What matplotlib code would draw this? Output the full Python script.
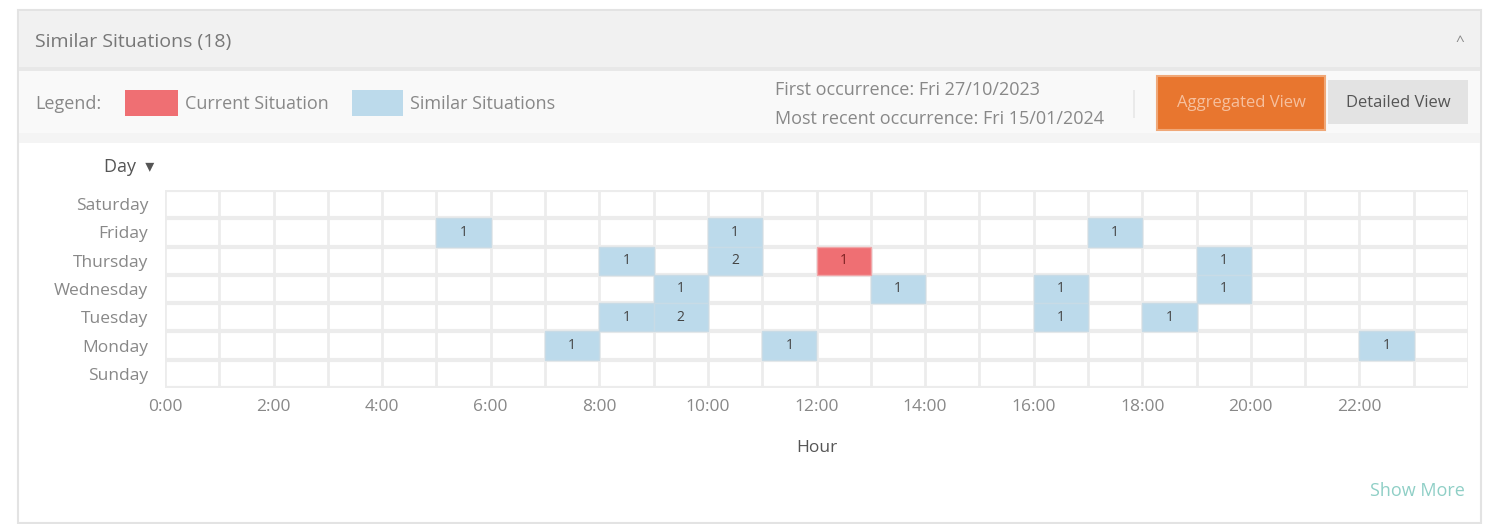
import matplotlib
matplotlib.use("Agg")
import matplotlib.pyplot as plt
from matplotlib.patches import Rectangle

plt.rcParams['font.family'] = ['Open Sans', 'DejaVu Sans']

# data
days = ["Sunday", "Monday", "Tuesday", "Wednesday", "Thursday", "Friday", "Saturday"]
hour_ticks = list(range(0, 24, 2))
hour_labels = [f"{h}:00" for h in hour_ticks]

similar_day = ["Friday", "Friday", "Friday",
               "Thursday", "Thursday", "Thursday",
               "Wednesday", "Wednesday", "Wednesday", "Wednesday",
               "Tuesday", "Tuesday", "Tuesday", "Tuesday",
               "Monday", "Monday", "Monday"]
similar_hour = [5, 10, 17,
                8, 10, 19,
                9, 13, 16, 19,
                8, 9, 16, 18,
                7, 11, 22]
similar_count = [1, 1, 1,
                 1, 2, 1,
                 1, 1, 1, 1,
                 1, 2, 1, 1,
                 1, 1, 1]

current_day = ["Thursday"]
current_hour = [12]
current_count = [1]

title = "Similar Situations (18)"
first_occ = "First occurrence: Fri 27/10/2023"
last_occ = "Most recent occurrence: Fri 15/01/2024"

W, H = 1488, 524
fig = plt.figure(figsize=(W / 100, H / 100), dpi=100)
fig.patch.set_facecolor("white")


def px_rect(x0, y0, x1, y1, **kw):
    # rectangle in pixel coords (top-left origin)
    r = Rectangle((x0 / W, 1 - y1 / H), (x1 - x0) / W, (y1 - y0) / H,
                  transform=fig.transFigure, zorder=-5, **kw)
    fig.patches.append(r)


def px_text(x, y, s, **kw):
    fig.text(x / W, 1 - y / H, s, **kw)


# panel frame, header and toolbar
px_rect(18, 10, 1481, 523, facecolor="white", edgecolor="#e3e3e3", lw=1.5)
px_rect(19, 11, 1480, 67, facecolor="#f1f1f1", edgecolor="none")
px_rect(19, 67, 1480, 71, facecolor="#e8e8e8", edgecolor="none")
px_rect(19, 71, 1480, 143, facecolor="#f9f9f9", edgecolor="none")
px_rect(19, 133, 1480, 143, facecolor="#f4f4f4", edgecolor="none")

px_text(35, 42, title, fontsize=14, color="#777777", va="center")
px_text(1460, 42, "^", fontsize=11, color="#888888", va="center", ha="center")

px_text(35, 104, "Legend:", fontsize=13, color="#888888", va="center")
px_rect(125, 90, 178, 116, facecolor="#ef6f73", edgecolor="none")
px_text(185, 104, "Current Situation", fontsize=13, color="#888888", va="center")
px_rect(352, 90, 403, 116, facecolor="#bcdaeb", edgecolor="none")
px_text(410, 104, "Similar Situations", fontsize=13, color="#888888", va="center")

px_text(775, 90, first_occ, fontsize=13, color="#888888", va="center")
px_text(775, 119, last_occ, fontsize=13, color="#888888", va="center")
px_rect(1133, 90, 1135, 118, facecolor="#eaeaea", edgecolor="none")

px_rect(1157, 76, 1325, 130, facecolor="#e8762f", edgecolor="#f0a878", lw=1.5)
px_text(1241, 103, "Aggregated View", fontsize=12, color="#f6c09e", va="center", ha="center")
px_rect(1328, 80, 1468, 124, facecolor="#e3e3e3", edgecolor="none")
px_text(1398, 103, "Detailed View", fontsize=12, color="#555555", va="center", ha="center")

px_text(104, 167, "Day  \u25be", fontsize=13, color="#555555", va="center")
px_text(1465, 491, "Show More", fontsize=13, color="#8fcfc6", va="center", ha="right")

# heatmap axes
ax = fig.add_axes([165 / W, 1 - 388 / H, (1468 - 165) / W, (388 - 190) / H])
ax.set_zorder(5)
ax.patch.set_alpha(0)
ax.set_xlim(0, 24)
ax.set_ylim(-0.5, len(days) - 0.5)

for h in range(25):
    ax.axvline(h, color="#ececec", lw=2, zorder=0)
for d in range(len(days) + 1):
    ax.axhline(d - 0.5, color="#ececec", lw=3, zorder=0)

sy = [days.index(d) for d in similar_day]
ax.bar(similar_hour, 1, bottom=[y - 0.5 for y in sy], width=1, align="edge",
       color="#bcdaeb", edgecolor="#c8dbe6", lw=1, zorder=2)
cy = [days.index(d) for d in current_day]
ax.bar(current_hour, 1, bottom=[y - 0.5 for y in cy], width=1, align="edge",
       color="#ef6f73", edgecolor="#f0a6a8", lw=1, zorder=2)

for h, y, c in zip(similar_hour, sy, similar_count):
    ax.text(h + 0.5, y, str(c), ha="center", va="center", fontsize=10, color="#444444", zorder=3)
for h, y, c in zip(current_hour, cy, current_count):
    ax.text(h + 0.5, y, str(c), ha="center", va="center", fontsize=10, color="#7a2020", zorder=3)

ax.set_yticks(range(len(days)))
ax.set_yticklabels(days)
ax.set_xticks(hour_ticks)
ax.set_xticklabels(hour_labels)
ax.tick_params(axis="both", length=0, labelsize=12.5, labelcolor="#888888")
ax.tick_params(axis="x", pad=8)
ax.tick_params(axis="y", pad=12)
for s in ax.spines.values():
    s.set_visible(False)
ax.set_xlabel("Hour", fontsize=12.5, color="#555555", labelpad=18)

fig.savefig("out.png", dpi=100)
